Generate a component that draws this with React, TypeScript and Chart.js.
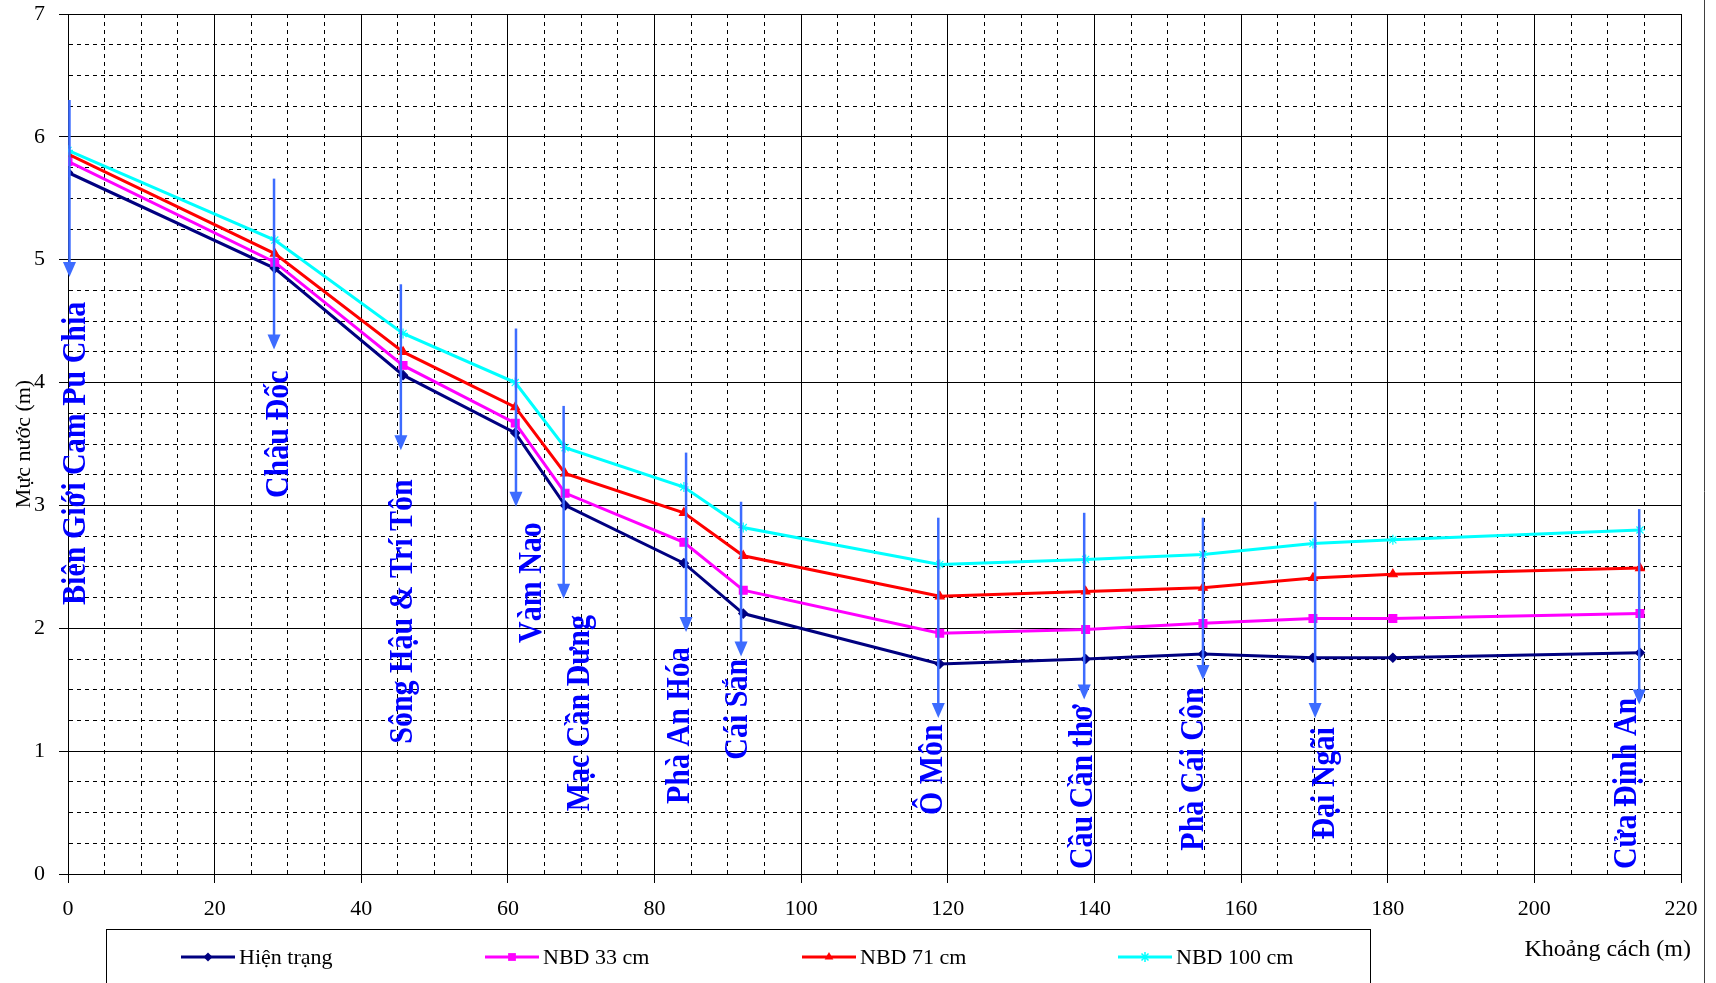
import React, { useEffect, useRef } from 'react';
import { Chart, registerables } from 'chart.js';

Chart.register(...registerables);

// ---- data ----
const distances = [0, 28.2, 45.7, 61, 67.8, 84, 92.1, 118.9, 138.8, 154.8, 169.8, 180.7, 214.4];
const hienTrang = [5.71, 4.93, 4.06, 3.59, 3.0, 2.53, 2.12, 1.71, 1.75, 1.79, 1.76, 1.76, 1.8];
const nbd33 = [5.8, 4.98, 4.14, 3.67, 3.1, 2.7, 2.31, 1.96, 1.99, 2.04, 2.08, 2.08, 2.12];
const nbd71 = [5.86, 5.05, 4.25, 3.8, 3.26, 2.94, 2.59, 2.26, 2.3, 2.33, 2.41, 2.44, 2.49];
const nbd100 = [5.89, 5.16, 4.4, 4.0, 3.47, 3.15, 2.82, 2.52, 2.56, 2.6, 2.69, 2.72, 2.8];
const seriesNames = ['Hiện trạng', 'NBD 33 cm', 'NBD 71 cm', 'NBD 100 cm'];

const stationNames = [
  'Biên Giới Cam Pu Chia',
  'Châu Đốc',
  'Sông Hậu & Trí Tôn',
  'Vàm Nao',
  'Mạc Cần Dưng',
  'Phà An Hóa',
  'Cái Sắn',
  'Ô Môn',
  'Cầu Cần thơ',
  'Phà Cái Côn',
  'Đại Ngãi',
  'Cửa Định An',
];
const stationKm = [0.2, 28.1, 45.4, 61.1, 67.6, 84.3, 91.8, 118.7, 138.6, 154.8, 170.1, 214.3];
const arrowFrom = [6.3, 5.66, 4.8, 4.44, 3.81, 3.43, 3.03, 2.9, 2.94, 2.9, 3.03, 2.97];
const arrowTo = [4.86, 4.27, 3.45, 2.99, 2.24, 1.97, 1.77, 1.27, 1.42, 1.58, 1.27, 1.38];
const labelKm = [1.2, 28.8, 45.7, 63.4, 69.9, 83.6, 91.5, 118, 138.5, 153.7, 171.5, 212.7];
const labelStart = [2.19, 3.06, 1.06, 1.88, 0.51, 0.57, 0.93, 0.48, 0.04, 0.19, 0.28, 0.04];

const xTitle = 'Khoảng cách (m)';
const yTitle = 'Mực nước (m)';

// ---- styles ----
const SERIF = '"Liberation Serif", "Times New Roman", serif';
const colors = ['#000080', '#FF00FF', '#FF0000', '#00FFFF'];
const pointStyles = ['rectRot', 'rect', 'triangle', 'star'];
const pointRadii = [4.5, 5.5, 5, 5];
const ARROW = '#3D6CFF';
const LABEL = '#0000FF';

const isMajorX = (v: number) => Math.abs(v / 20 - Math.round(v / 20)) < 1e-6;
const isMajorY = (v: number) => Math.abs(v - Math.round(v)) < 1e-6;

function drawMarker(ctx: CanvasRenderingContext2D, style: string, x: number, y: number, r: number, color: string) {
  ctx.save();
  ctx.fillStyle = color;
  ctx.strokeStyle = color;
  ctx.lineWidth = 1.5;
  ctx.beginPath();
  if (style === 'rectRot') {
    ctx.moveTo(x, y - r);
    ctx.lineTo(x + r, y);
    ctx.lineTo(x, y + r);
    ctx.lineTo(x - r, y);
    ctx.closePath();
    ctx.fill();
  } else if (style === 'rect') {
    const s = r * Math.SQRT1_2;
    ctx.rect(x - s, y - s, 2 * s, 2 * s);
    ctx.fill();
  } else if (style === 'triangle') {
    ctx.moveTo(x, y - r);
    ctx.lineTo(x + r * 0.87, y + r * 0.5);
    ctx.lineTo(x - r * 0.87, y + r * 0.5);
    ctx.closePath();
    ctx.fill();
  } else {
    ctx.moveTo(x, y - r);
    ctx.lineTo(x, y + r);
    ctx.moveTo(x - r * 0.7, y - r * 0.7);
    ctx.lineTo(x + r * 0.7, y + r * 0.7);
    ctx.moveTo(x + r * 0.7, y - r * 0.7);
    ctx.lineTo(x - r * 0.7, y + r * 0.7);
    ctx.stroke();
  }
  ctx.restore();
}

const annotationsPlugin = {
  id: 'stationAnnotations',
  afterDatasetsDraw(chart: any) {
    const { ctx } = chart;
    const xs = chart.scales.x;
    const ys = chart.scales.y;
    ctx.save();
    for (let i = 0; i < stationNames.length; i++) {
      const px = xs.getPixelForValue(stationKm[i]);
      const top = ys.getPixelForValue(arrowFrom[i]);
      const tip = ys.getPixelForValue(arrowTo[i]);
      ctx.strokeStyle = ARROW;
      ctx.lineWidth = 2.5;
      ctx.beginPath();
      ctx.moveTo(px, top);
      ctx.lineTo(px, tip - 12);
      ctx.stroke();
      ctx.fillStyle = ARROW;
      ctx.beginPath();
      ctx.moveTo(px, tip);
      ctx.lineTo(px - 6.5, tip - 15);
      ctx.lineTo(px + 6.5, tip - 15);
      ctx.closePath();
      ctx.fill();

      ctx.save();
      ctx.translate(xs.getPixelForValue(labelKm[i]), ys.getPixelForValue(labelStart[i]));
      ctx.rotate(-Math.PI / 2);
      ctx.scale(1, 1.1);
      ctx.font = `bold 30px ${SERIF}`;
      ctx.fillStyle = LABEL;
      ctx.textAlign = 'left';
      ctx.textBaseline = 'middle';
      ctx.fillText(stationNames[i], 0, 0);
      ctx.restore();
    }
    ctx.restore();
  },
  afterDraw(chart: any) {
    const { ctx } = chart;
    ctx.save();
    // outer right border
    ctx.strokeStyle = '#404040';
    ctx.lineWidth = 1;
    ctx.beginPath();
    ctx.moveTo(1704.5, 0);
    ctx.lineTo(1704.5, 983);
    ctx.stroke();

    // x axis title
    ctx.fillStyle = '#000';
    ctx.font = `24px ${SERIF}`;
    ctx.textAlign = 'right';
    ctx.textBaseline = 'middle';
    ctx.fillText(xTitle, 1691, 950);

    // legend box
    ctx.strokeStyle = '#000';
    ctx.lineWidth = 1;
    ctx.strokeRect(106.5, 929.5, 1264, 100);
    const legendX = [181, 485, 802, 1118];
    const ly = 957;
    chart.data.datasets.forEach((ds: any, i: number) => {
      ctx.strokeStyle = ds.borderColor;
      ctx.lineWidth = 3;
      ctx.beginPath();
      ctx.moveTo(legendX[i], ly);
      ctx.lineTo(legendX[i] + 54, ly);
      ctx.stroke();
      drawMarker(ctx, pointStyles[i], legendX[i] + 27, ly, pointRadii[i], colors[i]);
      ctx.fillStyle = '#000';
      ctx.font = `22px ${SERIF}`;
      ctx.textAlign = 'left';
      ctx.textBaseline = 'middle';
      ctx.fillText(ds.label, legendX[i] + 58, ly + 1);
    });
    ctx.restore();
  },
};

export default function App() {
  const canvasRef = useRef<HTMLCanvasElement | null>(null);

  useEffect(() => {
    if (!canvasRef.current) return;
    const series = [hienTrang, nbd33, nbd71, nbd100];
    const chart = new Chart(canvasRef.current, {
      type: 'line',
      data: {
        datasets: series.map((vals, i) => ({
          label: seriesNames[i],
          data: distances.map((d, j) => ({ x: d, y: vals[j] })),
          borderColor: colors[i],
          backgroundColor: colors[i],
          borderWidth: 3,
          pointStyle: pointStyles[i] as any,
          pointRadius: pointRadii[i],
          pointBackgroundColor: colors[i],
          pointBorderColor: colors[i],
          pointBorderWidth: 1.2,
          tension: 0,
          fill: false,
          order: 4 - i,
        })),
      },
      options: {
        responsive: false,
        animation: false,
        events: [],
        layout: { padding: { left: 0, right: 35, top: 14, bottom: 0 } },
        plugins: {
          legend: { display: false },
          title: { display: false },
          tooltip: { enabled: false },
        },
        scales: {
          x: {
            type: 'linear',
            min: 0,
            max: 220,
            afterFit: (s: any) => {
              s.height = 109;
              s.paddingLeft = 0;
              s.paddingRight = 0;
            },
            ticks: {
              stepSize: 5,
              autoSkip: false,
              maxRotation: 0,
              padding: 13,
              color: '#000',
              font: { family: SERIF, size: 22 },
              callback: (v: any) => (isMajorX(Number(v)) ? String(Math.round(Number(v))) : ''),
            },
            grid: {
              color: '#000',
              lineWidth: 1,
              tickLength: 9,
              tickColor: (c: any) => (c.tick && isMajorX(c.tick.value) ? '#000' : 'rgba(0,0,0,0)'),
            },
            border: {
              display: true,
              color: '#000',
              width: 1,
              dash: (c: any) => (c.tick && !isMajorX(c.tick.value) ? [4, 4] : []),
            },
          },
          y: {
            type: 'linear',
            min: 0,
            max: 7,
            afterFit: (s: any) => {
              s.width = 68;
              s.paddingTop = 0;
              s.paddingBottom = 0;
            },
            title: {
              display: true,
              text: yTitle,
              color: '#000',
              font: { family: SERIF, size: 22 },
              padding: { top: 11, bottom: 0 },
            },
            ticks: {
              stepSize: 0.25,
              autoSkip: false,
              padding: 14,
              color: '#000',
              font: { family: SERIF, size: 22 },
              callback: (v: any) => (isMajorY(Number(v)) ? String(Math.round(Number(v))) : ''),
            },
            grid: {
              color: '#000',
              lineWidth: 1,
              tickLength: 9,
              tickColor: (c: any) => (c.tick && isMajorY(c.tick.value) ? '#000' : 'rgba(0,0,0,0)'),
            },
            border: {
              display: true,
              color: '#000',
              width: 1,
              dash: (c: any) => (c.tick && !isMajorY(c.tick.value) ? [4, 4] : []),
            },
          },
        },
      },
      plugins: [annotationsPlugin],
    } as any);
    return () => chart.destroy();
  }, []);

  return (
    <div style={{ position: 'fixed', left: 0, top: 0, width: 1716, height: 983, background: '#fff' }}>
      <canvas ref={canvasRef} width={1716} height={983} style={{ display: 'block' }} />
    </div>
  );
}
